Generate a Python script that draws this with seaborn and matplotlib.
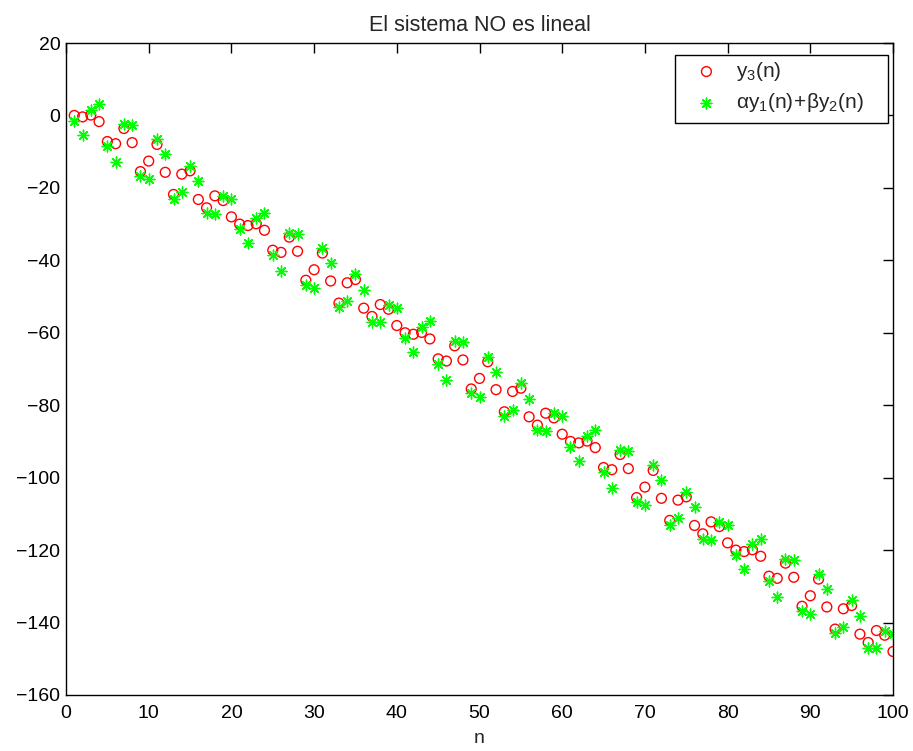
import matplotlib
matplotlib.use("Agg")
import matplotlib.pyplot as plt
import seaborn as sns
import numpy as np
import pandas as pd
from matplotlib.patches import Rectangle

n = list(range(1, 101))

y3 = [0.0, -0.4, 0.1, -1.7, -7.2, -7.8, -3.6, -7.5, -15.5, -12.6,
      -8.0, -15.7, -21.8, -16.2, -15.3, -23.2, -25.5, -22.2, -23.5, -28.0,
      -30.0, -30.4, -29.9, -31.7, -37.2, -37.8, -33.6, -37.5, -45.5, -42.6,
      -38.0, -45.7, -51.8, -46.2, -45.3, -53.2, -55.5, -52.2, -53.5, -58.0,
      -60.0, -60.4, -59.9, -61.7, -67.2, -67.8, -63.6, -67.5, -75.5, -72.6,
      -68.0, -75.7, -81.8, -76.2, -75.3, -83.2, -85.5, -82.2, -83.5, -88.0,
      -90.0, -90.4, -89.9, -91.7, -97.2, -97.8, -93.6, -97.5, -105.5, -102.6,
      -98.0, -105.7, -111.8, -106.2, -105.3, -113.2, -115.5, -112.2, -113.5, -118.0,
      -120.0, -120.4, -119.9, -121.7, -127.2, -127.8, -123.6, -127.5, -135.5, -132.6,
      -128.0, -135.7, -141.8, -136.2, -135.3, -143.2, -145.5, -142.2, -143.5, -148.0]

y12 = [-1.4, -5.3, 1.6, 3.2, -8.5, -12.9, -2.4, -2.6, -16.7, -17.6,
       -6.6, -10.7, -23.0, -21.2, -13.9, -18.2, -26.9, -27.1, -22.2, -23.1,
       -31.4, -35.3, -28.4, -26.8, -38.5, -42.9, -32.4, -32.6, -46.7, -47.6,
       -36.6, -40.7, -53.0, -51.2, -43.9, -48.2, -56.9, -57.1, -52.2, -53.1,
       -61.4, -65.3, -58.4, -56.8, -68.5, -72.9, -62.4, -62.6, -76.7, -77.6,
       -66.6, -70.7, -83.0, -81.2, -73.9, -78.2, -86.9, -87.1, -82.2, -83.1,
       -91.4, -95.3, -88.4, -86.8, -98.5, -102.9, -92.4, -92.6, -106.7, -107.6,
       -96.6, -100.7, -113.0, -111.2, -103.9, -108.2, -116.9, -117.1, -112.2, -113.1,
       -121.4, -125.3, -118.4, -116.8, -128.5, -132.9, -122.4, -122.6, -136.7, -137.6,
       -126.6, -130.7, -143.0, -141.2, -133.9, -138.2, -146.9, -147.1, -142.2, -143.1]

labels = [r'$\mathregular{y_3(n)}$', r'$\mathregular{αy_1(n)\!+\!βy_2(n)}$']
title = "El sistema NO es lineal"
xticks = list(range(0, 101, 10))
yticks = list(range(-160, 21, 20))

sns.set_theme(style="white")
plt.rcParams['font.family'] = ['Liberation Sans', 'DejaVu Sans']
plt.rcParams['mathtext.fontset'] = 'custom'
plt.rcParams['mathtext.rm'] = 'Liberation Sans'
plt.rcParams['mathtext.it'] = 'Liberation Sans'
plt.rcParams['mathtext.default'] = 'regular'

W, H = 913, 751
FS = 14
fig = plt.figure(figsize=(W / 100, H / 100), dpi=100)
fig.patch.set_facecolor('white')
ax = fig.add_axes([66 / W, 1 - 695 / H, 827 / W, 652 / H])

df = pd.DataFrame({'n': n, 'y3': y3, 'y12': y12})
sns.scatterplot(data=df, x='n', y='y3', marker='o', s=50, facecolors='none',
                edgecolor='#ff0000', linewidth=1.0, ax=ax, label=labels[0])
sns.scatterplot(data=df, x='n', y='y12', marker=(8, 2, 0), s=60,
                color='#00ff00', edgecolor='#00ff00', linewidth=1.0, ax=ax, label=labels[1])

ax.set_xlim(0, 100)
ax.set_ylim(-160, 20)
ax.set_xticks(xticks)
ax.set_yticks(yticks)
ax.tick_params(direction='in', top=True, right=True, length=7, width=1.0,
               labelsize=FS, colors='black')
ax.tick_params(axis='x', pad=7)
ax.tick_params(axis='y', pad=4)
for s in ax.spines.values():
    s.set_color('black')
    s.set_linewidth(1.0)
ax.set_xlabel('n', fontsize=FS, va='center')
ax.xaxis.set_label_coords(0.5, -0.066)
ax.set_ylabel('')
ax.set_title(title, fontsize=15.5, pad=9)

# legend frame (MATLAB-style box)
box = Rectangle((675 / W, 1 - 123 / H), 213 / W, 68 / H,
                transform=fig.transFigure, facecolor='white',
                edgecolor='black', linewidth=1.0, zorder=6, clip_on=False)
ax.add_patch(box)
leg = ax.legend(loc='upper left', bbox_to_anchor=(696 / W, 1 - 60 / H),
                bbox_transform=fig.transFigure, fontsize=15, frameon=False,
                borderaxespad=0, borderpad=0, handlelength=1.0,
                handletextpad=0.9, labelspacing=0.4)
leg.set_zorder(10)
h = leg.legend_handles
h[0].set_facecolor('none')
h[0].set_edgecolor('#ff0000')
h[1].set_edgecolor('#00ff00')

fig.savefig('out.png', dpi=100)
